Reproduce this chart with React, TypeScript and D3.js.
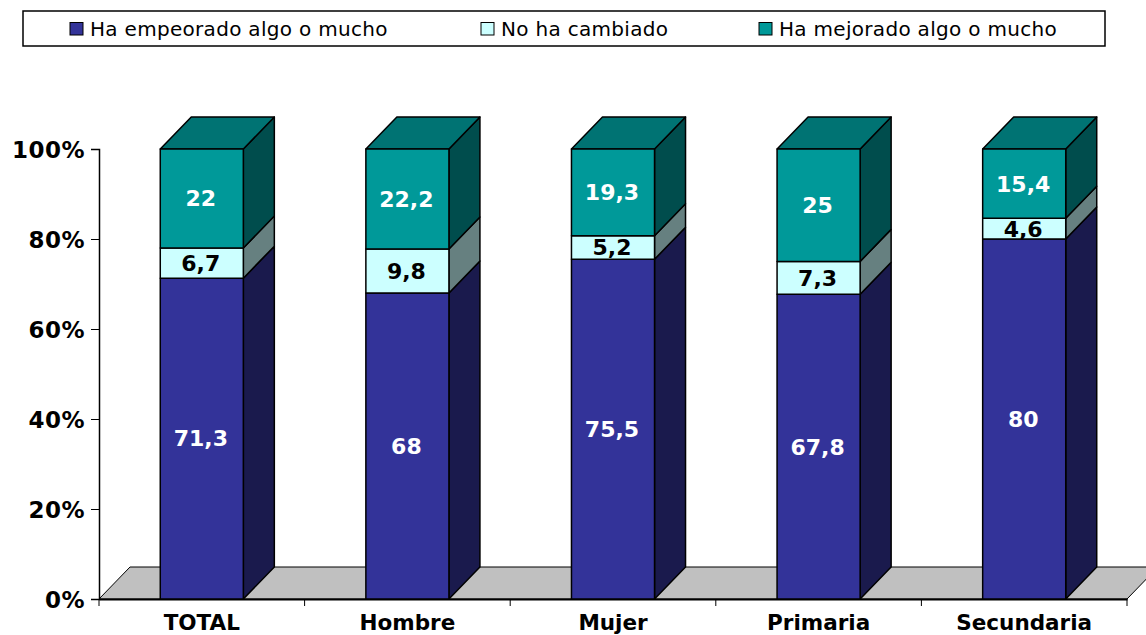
import React, { useEffect, useRef } from 'react';
import * as d3 from 'd3';

const categories = ['TOTAL', 'Hombre', 'Mujer', 'Primaria', 'Secundaria'];
const seriesNames = ['Ha empeorado algo o mucho', 'No ha cambiado', 'Ha mejorado algo o mucho'];
const empeorado = [71.3, 68, 75.5, 67.8, 80];
const sinCambio = [6.7, 9.8, 5.2, 7.3, 4.6];
const mejorado = [22, 22.2, 19.3, 25, 15.4];
const yTicks = [0, 0.2, 0.4, 0.6, 0.8, 1];

const frontColors = ['#333399', '#CCFFFF', '#009999'];
const sideColors = ['#1A1A4D', '#668080', '#004D4D'];
const topColor = '#007373';
const labelColors = ['#ffffff', '#000000', '#ffffff'];
const legendX = [70, 481, 759];

const width = 1146;
const height = 635;
const depthX = 31;
const depthY = 32;
const font = '"DejaVu Sans", Verdana, sans-serif';

export default function App() {
  const svgRef = useRef<SVGSVGElement>(null);

  useEffect(() => {
    const svg = d3.select(svgRef.current);
    svg.selectAll('*').remove();

    const x = d3.scaleBand().domain(categories).range([99, 1127]).paddingInner(0.596).paddingOuter(0.298);
    const y = d3.scaleLinear().domain([0, 1]).range([599, 149]);

    const rows = categories.map((c, i) => ({ c, a: empeorado[i], b: sinCambio[i], m: mejorado[i] }));
    const stacked = d3.stack<any>().keys(['a', 'b', 'm']).offset(d3.stackOffsetExpand)(rows);

    // legend
    svg.append('rect').attr('x', 23).attr('y', 11).attr('width', 1082).attr('height', 35)
      .attr('fill', '#fff').attr('stroke', '#000').attr('stroke-width', 1.5);
    seriesNames.forEach((name, i) => {
      svg.append('rect').attr('x', legendX[i]).attr('y', 22.5).attr('width', 13).attr('height', 12.5)
        .attr('fill', frontColors[i]).attr('stroke', '#000');
      svg.append('text').attr('x', legendX[i] + 20).attr('y', 36)
        .attr('font-family', font).attr('font-size', 20).attr('letter-spacing', 0.3).attr('fill', '#000')
        .text(name);
    });

    // floor
    const floorPoints: [number, number][] = [
      [99, y(0)], [99 + depthX, y(0) - depthY], [1127 + depthX, y(0) - depthY], [1127, y(0)],
    ];
    svg.append('polygon').attr('points', floorPoints.join(' '))
      .attr('fill', '#C0C0C0').attr('stroke', '#000').attr('stroke-width', 1);

    // axes
    const yAxis = svg.append('g').attr('transform', 'translate(99,0)')
      .call(d3.axisLeft(y).tickValues(yTicks).tickFormat(d3.format('.0%')).tickSizeOuter(0).tickSize(8));
    yAxis.selectAll('line').attr('stroke', '#000');
    yAxis.select('.domain').attr('stroke', '#000').attr('stroke-width', 1.5);
    yAxis.selectAll('text').attr('x', -14).attr('dy', '0.35em').attr('fill', '#000')
      .attr('font-family', font).attr('font-size', 23).attr('letter-spacing', 0.5).attr('font-weight', 'bold');

    const xAxis = svg.append('g').attr('transform', `translate(0,${y(0)})`)
      .call(d3.axisBottom(x).tickSize(0).tickSizeOuter(0));
    xAxis.select('.domain').attr('stroke', '#000').attr('stroke-width', 2);
    xAxis.selectAll('text').attr('y', 31).attr('dy', 0).attr('fill', '#000')
      .attr('font-family', font).attr('font-size', 21.5).attr('font-weight', 'bold');
    const step = x.step();
    d3.range(categories.length + 1).forEach((i) => {
      xAxis.append('line').attr('x1', 99 + i * step).attr('x2', 99 + i * step).attr('y1', 0).attr('y2', 7)
        .attr('stroke', '#000');
    });

    // bars
    categories.forEach((c, ci) => {
      const x0 = x(c)!;
      const x1 = x0 + x.bandwidth();
      stacked.forEach((layer, si) => {
        const yB = y(layer[ci][0]);
        const yT = y(layer[ci][1]);
        const g = svg.append('g').attr('stroke', '#000').attr('stroke-width', 1.5).attr('stroke-linejoin', 'round');
        g.append('polygon')
          .attr('points', [[x1, yB], [x1 + depthX, yB - depthY], [x1 + depthX, yT - depthY], [x1, yT]].join(' '))
          .attr('fill', sideColors[si]);
        if (si === stacked.length - 1) {
          g.append('polygon')
            .attr('points', [[x0, yT], [x0 + depthX, yT - depthY], [x1 + depthX, yT - depthY], [x1, yT]].join(' '))
            .attr('fill', topColor);
        }
        g.append('rect').attr('x', x0).attr('y', yT).attr('width', x1 - x0).attr('height', yB - yT)
          .attr('fill', frontColors[si]);
        svg.append('text')
          .attr('x', (x0 + x1) / 2 - 1).attr('y', (yB + yT) / 2).attr('dy', '0.36em')
          .attr('text-anchor', 'middle').attr('fill', labelColors[si])
          .attr('font-family', font).attr('font-size', 22).attr('font-weight', 'bold')
          .text(String(layer[ci].data[layer.key as string]).replace('.', ','));
      });
    });
  }, []);

  return <svg ref={svgRef} width={width} height={height} style={{ position: 'absolute', left: 0, top: 0, display: 'block' }} />;
}
